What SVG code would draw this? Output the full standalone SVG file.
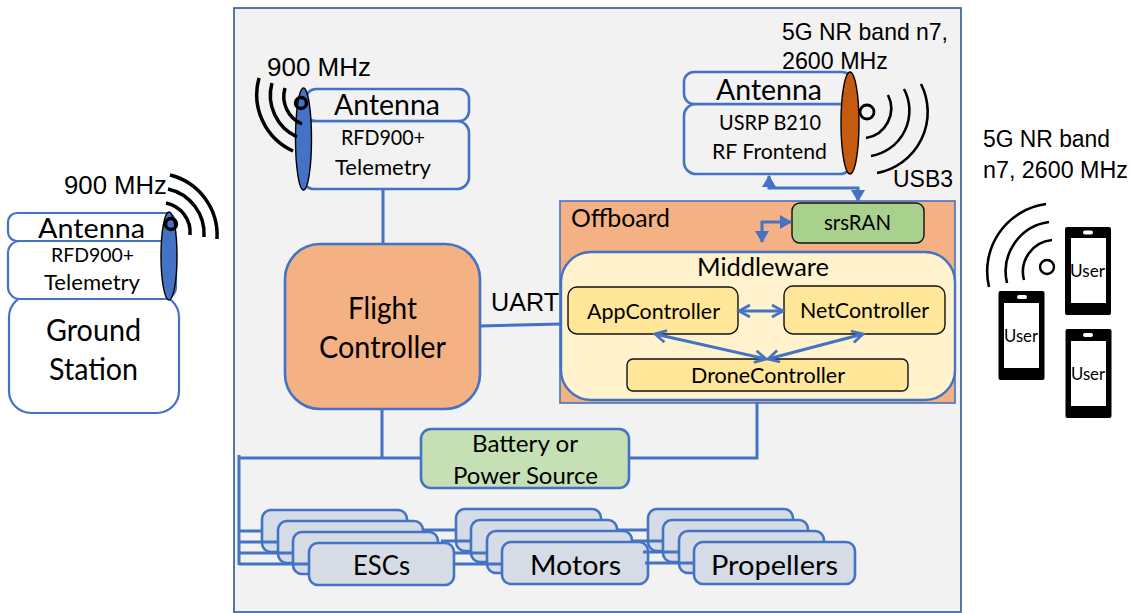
<svg xmlns="http://www.w3.org/2000/svg" width="1131" height="613" viewBox="0 0 1131 613">
<defs>
<marker id="ah" markerWidth="16" markerHeight="16" refX="11" refY="7" orient="auto-start-reverse" markerUnits="userSpaceOnUse"><path d="M0,0 L12,7 L0,14 Z" fill="#4472c4"/></marker>
<marker id="open" markerWidth="16" markerHeight="16" refX="13" refY="7" orient="auto-start-reverse" markerUnits="userSpaceOnUse"><path d="M2,1 L13,7 L2,13" fill="none" stroke="#4472c4" stroke-width="2.8"/></marker>
</defs>
<style>
text{fill:#000}
.c{font-family:Lato,"Noto Sans",sans-serif}
.a{font-family:"Liberation Sans",Arial,sans-serif}
.box{fill:#fff;stroke:#4472c4;stroke-width:2.2}
.lbox{fill:#f2f2f2;stroke:#4472c4;stroke-width:2.6}
.blk{fill:#d6dce5;stroke:#4472c4;stroke-width:2.6}
.ctl{fill:#ffe699;stroke:#111;stroke-width:1.4}
.wave{fill:none;stroke:#000;stroke-linecap:butt}
.ln{fill:none;stroke:#4472c4;stroke-width:3}
.ar{fill:none;stroke:#4472c4;stroke-width:3}
</style>
<rect id="panel" x="234" y="8" width="727" height="604" fill="#f2f2f2" stroke="#2f5597" stroke-width="1.6"/>

<g id="ground-station">
<rect class="box" x="9" y="295" width="170" height="118" rx="22"/>
<rect class="box" x="8" y="241" width="168" height="58" rx="12"/>
<rect class="box" x="8" y="213" width="167" height="28" rx="9"/>
<ellipse cx="169" cy="256" rx="8" ry="44" fill="#4472c4" stroke="#000" stroke-width="1.4"/>
<circle cx="171" cy="224" r="5.5" fill="none" stroke="#000" stroke-width="3.4"/>
<path class="wave" stroke-width="3.5" d="M166,203 A30,30 0 0 1 190,235"/>
<path class="wave" stroke-width="3.5" d="M168,189 A46,46 0 0 1 204,237"/>
<path class="wave" stroke-width="3.5" d="M170,175 A62,62 0 0 1 217,239"/>
<text class="a" x="64" y="194" font-size="25" textLength="103" lengthAdjust="spacingAndGlyphs">900 MHz</text>
<text class="c" x="38" y="238" font-size="27" textLength="107" lengthAdjust="spacingAndGlyphs">Antenna</text>
<text class="c" x="51" y="262" font-size="20" textLength="83" lengthAdjust="spacingAndGlyphs">RFD900+</text>
<text class="c" x="44" y="290" font-size="21" textLength="96" lengthAdjust="spacingAndGlyphs">Telemetry</text>
<text class="c" x="46" y="341" font-size="30" textLength="95" lengthAdjust="spacingAndGlyphs">Ground</text>
<text class="c" x="49" y="380" font-size="30" textLength="89" lengthAdjust="spacingAndGlyphs">Station</text>
</g>

<g id="drone-telemetry">
<rect class="lbox" x="302" y="121" width="167" height="68" rx="12"/>
<rect class="lbox" x="306" y="89" width="163" height="32" rx="10"/>
<ellipse cx="303.5" cy="139" rx="8" ry="51" fill="#4472c4" stroke="#000" stroke-width="1.4"/>
<circle cx="301" cy="103" r="5.5" fill="none" stroke="#000" stroke-width="3.4"/>
<path class="wave" stroke-width="3.5" d="M285,88 A30,30 0 0 0 302,124"/>
<path class="wave" stroke-width="3.5" d="M272,83 A46,46 0 0 0 297,137"/>
<path class="wave" stroke-width="3.5" d="M259,78 A62,62 0 0 0 293,151"/>
<text class="a" x="267" y="76" font-size="25" textLength="104" lengthAdjust="spacingAndGlyphs">900 MHz</text>
<text class="c" x="334" y="115" font-size="28" textLength="106" lengthAdjust="spacingAndGlyphs">Antenna</text>
<text class="c" x="341" y="145" font-size="21" textLength="84" lengthAdjust="spacingAndGlyphs">RFD900+</text>
<text class="c" x="335" y="175" font-size="21" textLength="96" lengthAdjust="spacingAndGlyphs">Telemetry</text>
</g>

<g id="rf-frontend">
<rect class="lbox" x="684" y="104" width="168" height="70" rx="12"/>
<rect class="lbox" x="684" y="72" width="168" height="32" rx="10"/>
<ellipse cx="850" cy="123" rx="9" ry="51" fill="#c55a11" stroke="#000" stroke-width="1.4"/>
<circle cx="867" cy="112" r="7" fill="none" stroke="#000" stroke-width="2.8"/>
<path class="wave" stroke-width="2.6" d="M888,95 A30,30 0 0 1 866,138"/>
<path class="wave" stroke-width="2.6" d="M904,89 A46,46 0 0 1 871,156"/>
<path class="wave" stroke-width="2.6" d="M921,84 A62,62 0 0 1 877,173"/>
<text class="a" x="782" y="40" font-size="24" textLength="166" lengthAdjust="spacingAndGlyphs">5G NR band n7,</text>
<text class="a" x="782" y="69" font-size="24" textLength="106" lengthAdjust="spacingAndGlyphs">2600 MHz</text>
<text class="a" x="893" y="187" font-size="24" textLength="60" lengthAdjust="spacingAndGlyphs">USB3</text>
<text class="c" x="716" y="100" font-size="28" textLength="106" lengthAdjust="spacingAndGlyphs">Antenna</text>
<text class="c" x="719" y="130" font-size="21" textLength="102" lengthAdjust="spacingAndGlyphs">USRP B210</text>
<text class="c" x="712" y="159" font-size="21" textLength="115" lengthAdjust="spacingAndGlyphs">RF Frontend</text>
</g>

<g id="offboard">
<rect x="560" y="201" width="395" height="202" fill="#f4b183" stroke="#4472c4" stroke-width="1.6"/>
<text class="c" x="571" y="227" font-size="25" textLength="99" lengthAdjust="spacingAndGlyphs">Offboard</text>
</g>
<g id="srsran">
<rect x="792" y="203" width="132" height="40" rx="8" fill="#a9d18e" stroke="#111" stroke-width="1.4"/>
<text class="c" x="824" y="230" font-size="22" textLength="67" lengthAdjust="spacingAndGlyphs">srsRAN</text>
</g>
<g id="middleware">
<rect x="561" y="252" width="394" height="148" rx="30" fill="#fff2cc" stroke="#4472c4" stroke-width="2.4"/>
<text class="c" x="697" y="276" font-size="25" textLength="132" lengthAdjust="spacingAndGlyphs">Middleware</text>
</g>
<g id="appcontroller">
<rect class="ctl" x="568" y="287" width="170" height="47" rx="9"/>
<text class="c" x="587" y="319" font-size="22" textLength="133" lengthAdjust="spacingAndGlyphs">AppController</text>
</g>
<g id="netcontroller">
<rect class="ctl" x="784" y="286" width="161" height="48" rx="9"/>
<text class="c" x="800" y="318" font-size="22" textLength="129" lengthAdjust="spacingAndGlyphs">NetController</text>
</g>
<g id="dronecontroller">
<rect class="ctl" x="627" y="359" width="281" height="32" rx="6"/>
<text class="c" x="691" y="383" font-size="22" textLength="154" lengthAdjust="spacingAndGlyphs">DroneController</text>
</g>

<g id="flight-controller">
<rect x="285" y="244" width="195" height="165" rx="35" fill="#f4b183" stroke="#4472c4" stroke-width="2.6"/>
<text class="c" x="348" y="319" font-size="30" textLength="69" lengthAdjust="spacingAndGlyphs">Flight</text>
<text class="c" x="319" y="358" font-size="30" textLength="127" lengthAdjust="spacingAndGlyphs">Controller</text>
</g>
<g id="battery">
<rect x="421" y="429" width="208" height="59" rx="10" fill="#c5e0b4" stroke="#4472c4" stroke-width="2.6"/>
<text class="c" x="472" y="452" font-size="24" textLength="106" lengthAdjust="spacingAndGlyphs">Battery or</text>
<text class="c" x="453" y="484" font-size="24" textLength="145" lengthAdjust="spacingAndGlyphs">Power Source</text>
</g>

<g id="escs">
<rect class="blk" x="262" y="510" width="145" height="42" rx="9"/>
<rect class="blk" x="278" y="521" width="145" height="42" rx="9"/>
<rect class="blk" x="293" y="532" width="145" height="42" rx="9"/>
<rect class="blk" x="309" y="543" width="145" height="42" rx="9"/>
<text class="c" x="353" y="575" font-size="27" textLength="57" lengthAdjust="spacingAndGlyphs">ESCs</text>
</g>
<g id="motors">
<rect class="blk" x="456" y="509" width="145" height="42" rx="9"/>
<rect class="blk" x="471" y="520" width="146" height="42" rx="9"/>
<rect class="blk" x="487" y="531" width="145" height="42" rx="9"/>
<rect class="blk" x="502" y="542" width="146" height="42" rx="9"/>
<text class="c" x="530" y="575" font-size="27" textLength="91" lengthAdjust="spacingAndGlyphs">Motors</text>
</g>
<g id="propellers">
<rect class="blk" x="648" y="509" width="145" height="42" rx="9"/>
<rect class="blk" x="663" y="520" width="145" height="42" rx="9"/>
<rect class="blk" x="679" y="531" width="145" height="42" rx="9"/>
<rect class="blk" x="694" y="542" width="161" height="42" rx="9"/>
<text class="c" x="711" y="575" font-size="27" textLength="127" lengthAdjust="spacingAndGlyphs">Propellers</text>
</g>

<g id="connectors">
<path class="ln" d="M383,189V244"/>
<path class="ln" d="M480,326L561,324"/>
<path class="ln" d="M382,409V458"/>
<path class="ln" d="M421,458H239"/>
<path class="ln" d="M239,455V565"/>
<path class="ln" d="M629,458H757V402"/>
<path class="ln" d="M239,531H262M239,542H278M239,553H293M239,564H309"/>
<path class="ln" d="M423,530H456M441,541H471M454,553H487M454,564H502"/>
<path class="ln" d="M617,530H648M632,541H663M643,552H679M645,563H694"/>
<path class="ar" d="M769,176V188H858V201" marker-start="url(#ah)" marker-end="url(#ah)"/>
<path class="ar" d="M791,222H762V242" marker-start="url(#ah)" marker-end="url(#ah)"/>
<path class="ar" d="M739,311H783" marker-start="url(#open)" marker-end="url(#open)"/>
<path class="ar" d="M655,334L766,359" marker-start="url(#open)" marker-end="url(#open)"/>
<path class="ar" d="M863,334L768,359" marker-start="url(#open)" marker-end="url(#open)"/>
</g>
<text id="uart" class="a" x="491" y="311" font-size="25" textLength="68" lengthAdjust="spacingAndGlyphs">UART</text>

<g id="users">
<circle cx="1047" cy="267" r="7" fill="none" stroke="#000" stroke-width="2.4"/>
<path class="wave" stroke-width="2.6" d="M1052,240 A32,32 0 0 0 1024,280"/>
<path class="wave" stroke-width="2.6" d="M1049,222 A50,50 0 0 0 1007,283"/>
<path class="wave" stroke-width="2.6" d="M1046,204 A68,68 0 0 0 989,287"/>
<text class="a" x="983" y="147" font-size="23" textLength="127" lengthAdjust="spacingAndGlyphs">5G NR band</text>
<text class="a" x="983" y="178" font-size="23" textLength="145" lengthAdjust="spacingAndGlyphs">n7, 2600 MHz</text>
</g>
<g id="user-1">
<rect x="1065" y="227" width="46" height="88" rx="2"/>
<rect x="1071" y="238" width="35" height="65" fill="#fff"/>
<rect x="1083" y="230.500" width="10" height="4" rx="2" fill="#fff"/>
<text class="c" x="1070" y="277" font-size="17" textLength="35" lengthAdjust="spacingAndGlyphs">User</text>
</g>
<g id="user-2">
<rect x="998.500" y="291" width="46" height="89" rx="2"/>
<rect x="1004" y="303" width="35" height="65" fill="#fff"/>
<rect x="1017" y="295" width="10" height="4" rx="2" fill="#fff"/>
<text class="c" x="1004" y="342" font-size="17" textLength="34" lengthAdjust="spacingAndGlyphs">User</text>
</g>
<g id="user-3">
<rect x="1065.500" y="329" width="46" height="89" rx="2"/>
<rect x="1071" y="341" width="35" height="65" fill="#fff"/>
<rect x="1083" y="333" width="10" height="4" rx="2" fill="#fff"/>
<text class="c" x="1071" y="380" font-size="17" textLength="34" lengthAdjust="spacingAndGlyphs">User</text>
</g>
</svg>
